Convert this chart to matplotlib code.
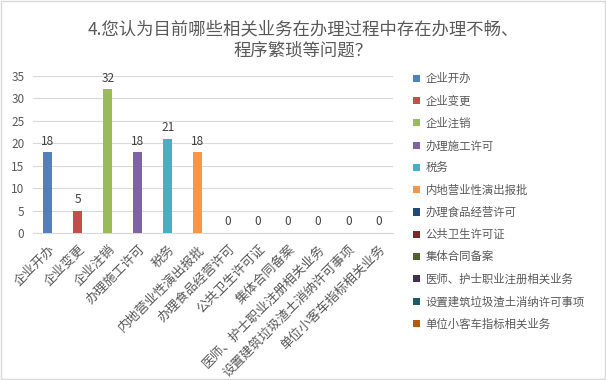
import matplotlib.pyplot as plt
from matplotlib.patches import Rectangle

plt.rcParams['font.family'] = ['Noto Sans CJK SC', 'DejaVu Sans']

categories = ['企业开办', '企业变更', '企业注销', '办理施工许可', '税务', '内地营业性演出报批',
              '办理食品经营许可', '公共卫生许可证', '集体合同备案', '医师、护士职业注册相关业务',
              '设置建筑垃圾渣土消纳许可事项', '单位小客车指标相关业务']
values = [18, 5, 32, 18, 21, 18, 0, 0, 0, 0, 0, 0]
colors = ['#4F81BD', '#C0504D', '#9BBB59', '#8064A2', '#4BACC6', '#F79646',
          '#1F497D', '#772C2A', '#4F6228', '#3F3151', '#215968', '#B65708']
yticks = [0, 5, 10, 15, 20, 25, 30, 35]

fig = plt.figure(figsize=(6.06, 3.80), dpi=100)
ax = fig.add_axes([0.054, 0.387, 0.595, 0.413])

x = range(len(categories))
bars = ax.bar(x, values, width=0.3, color=colors, label=categories, zorder=3)
for xi, v in zip(x, values):
    ax.text(xi, v + 1.0, str(v), ha='center', va='bottom', fontsize=8.5, color='#404040')

ax.set_xlim(-0.5, len(categories) - 0.5)
ax.set_ylim(0, 35)
ax.set_yticks(yticks)
ax.yaxis.grid(True, color='#D9D9D9', linewidth=0.8, zorder=0)
for s in ['top', 'right', 'left']:
    ax.spines[s].set_visible(False)
ax.spines['bottom'].set_color('#D9D9D9')
ax.tick_params(axis='y', length=0, labelsize=8.5, colors='#595959', pad=6)
ax.tick_params(axis='x', length=0, colors='#595959', pad=7)
ax.set_xticks(list(x))
ax.set_xticklabels(categories, rotation=45, ha='right', rotation_mode='anchor', fontsize=9.3)

fig.text(0.5, 0.895, '4.您认为目前哪些相关业务在办理过程中存在办理不畅、\n程序繁琐等问题？',
         ha='center', va='center', fontsize=12.5, color='#595959', linespacing=1.25)

fig.legend(handles=list(bars), labels=categories, loc='upper left',
           bbox_to_anchor=(0.665, 0.835), frameon=False, fontsize=8.2,
           handlelength=0.6, handleheight=0.6, handletextpad=0.5,
           labelspacing=0.98, labelcolor='#595959')

fig.add_artist(Rectangle((0.002, 0.003), 0.996, 0.994, transform=fig.transFigure,
                         fill=False, edgecolor='#D9D9D9', linewidth=1))

fig.savefig('out.png', dpi=100)
